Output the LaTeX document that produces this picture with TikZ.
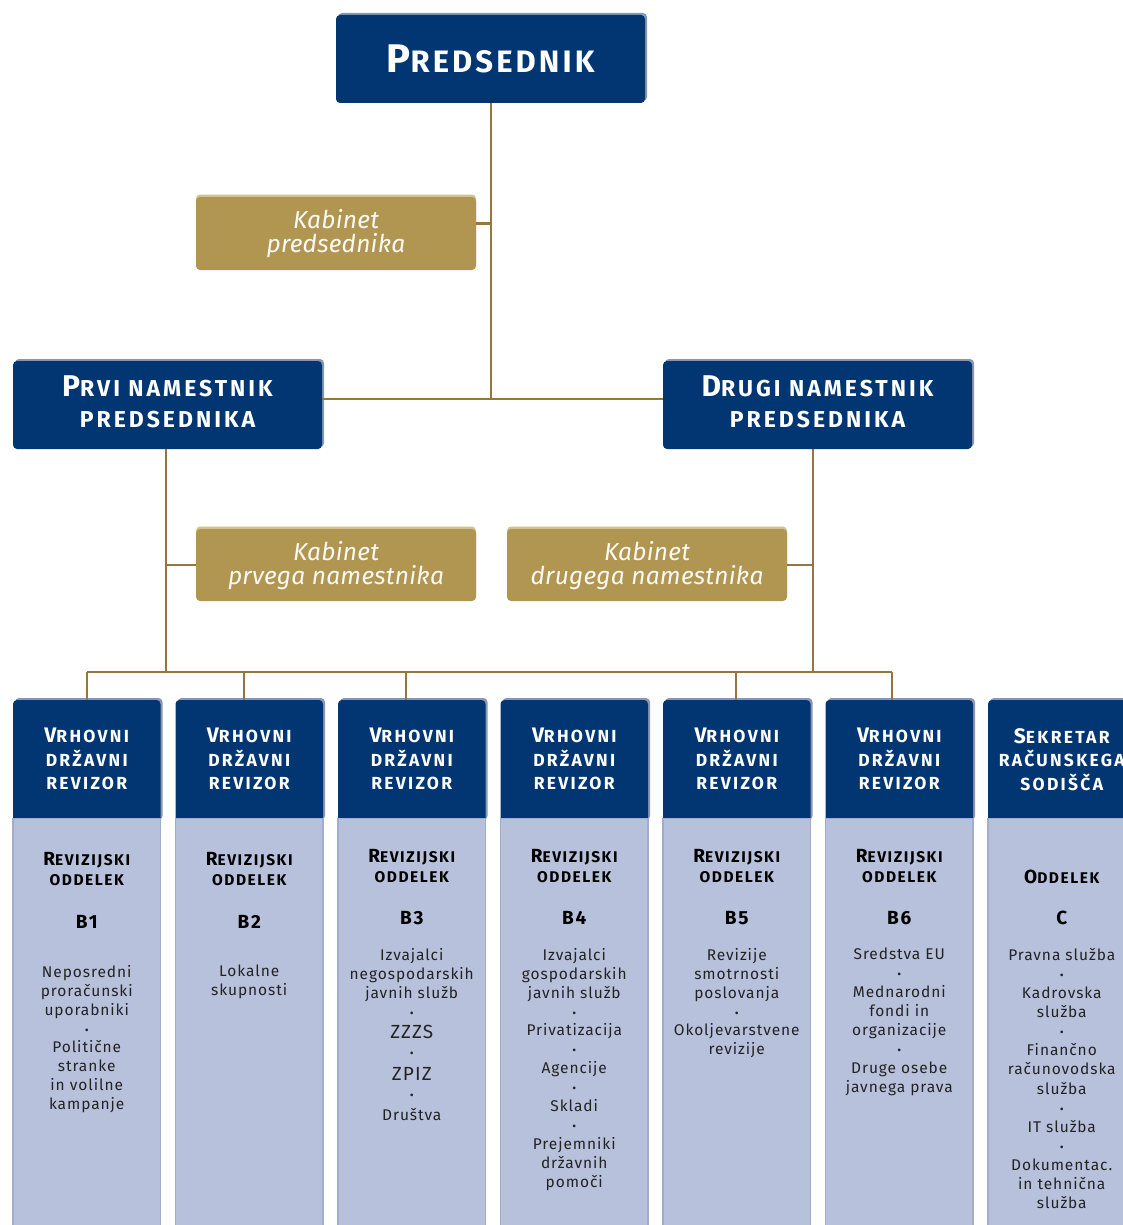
\documentclass[tikz,border=0pt]{standalone}
\usepackage{fontspec}
\setmainfont{Fira Sans}
\newfontfamily\hdfont{Fira Sans}[LetterSpace=10]
\newfontfamily\widefont{Fira Sans}[LetterSpace=13]
\newfontfamily\itemfont{Fira Sans}[LetterSpace=6]
\newfontfamily\kabfont{Fira Sans}[LetterSpace=1]
\usetikzlibrary{shadows}
\definecolor{navy}{RGB}{1,54,114}
\definecolor{gold}{RGB}{176,150,81}
\definecolor{goldhi}{RGB}{208,194,150}
\definecolor{lightb}{RGB}{184,193,219}
\definecolor{lightedge}{RGB}{162,172,204}
\definecolor{connc}{RGB}{150,118,64}
\definecolor{shad}{RGB}{140,150,178}
\definecolor{ink}{RGB}{35,35,35}
\newcommand{\Sc}[4]{{\fontsize{#1}{#1}\selectfont #3}{\fontsize{#2}{#2}\selectfont #4}}
\newcommand{\bul}{{\fontsize{12}{12}\selectfont\textbullet}}
\newcommand{\vdr}{\Sc{21}{17.5}{V}{RHOVNI}\\DRŽAVNI\\REVIZOR}
\newcommand{\revodd}{\Sc{19}{15.5}{R}{EVIZIJSKI}\\ODDELEK}
\begin{document}
\begin{tikzpicture}[x=1pt,y=-1pt,
  navybox/.style={fill=navy, rounded corners=4pt, inner sep=0pt, drop shadow={opacity=1, fill=shad, shadow xshift=2pt, shadow yshift=2pt}},
  goldbox/.style={fill=gold, rounded corners=4pt, inner sep=0pt, drop shadow={opacity=1, fill=goldhi, shadow xshift=0pt, shadow yshift=2.5pt}},
  bodybox/.style={fill=lightb, draw=lightedge, line width=1.2pt, inner sep=0pt},
  connline/.style={draw=connc, line width=2.4pt},
  hdtext/.style={text=white, align=center, inner sep=0pt, anchor=north},
  kabtext/.style={text=white!94!gold, align=center, inner sep=0pt, anchor=north, font=\kabfont\itshape\fontsize{24.5}{24}\selectfont},
  colhd/.style={hdtext, font=\widefont\bfseries\fontsize{17.5}{23.5}\selectfont},
  bodyhd/.style={text=black, align=center, inner sep=0pt, anchor=north, font=\hdfont\bfseries\fontsize{15.5}{20}\selectfont},
  codetext/.style={text=black, inner sep=0pt, anchor=base, font=\hdfont\bfseries\fontsize{19}{19}\selectfont},
  itemtext/.style={text=ink, align=center, inner sep=0pt, anchor=north, font=\itemfont\fontsize{15.5}{18.9}\selectfont},
]
\useasboundingbox (0,0) rectangle (1123,1225);
\fill[white] (0,0) rectangle (1123,1225);

% top level
\node[navybox, minimum width=309pt, minimum height=88pt, text=white, font=\hdfont\bfseries] (pres) at (490.5,59) {\Sc{40}{31}{P}{REDSEDNIK}};
\node[goldbox, minimum width=280pt, minimum height=73pt] (kab1) at (336,233.5) {};
\node[kabtext] (kab1t) at (336,209) {Kabinet\\predsednika};

\node[navybox, minimum width=309pt, minimum height=88pt] (prvi) at (167.5,405) {};
\node[hdtext, font=\widefont\bfseries\fontsize{23}{31}\selectfont] (prvit) at (167.5,376) {\Sc{30}{23}{P}{RVI NAMESTNIK}\\PREDSEDNIKA};
\node[navybox, minimum width=309pt, minimum height=88pt] (drugi) at (817.5,405) {};
\node[hdtext, font=\widefont\bfseries\fontsize{23}{31}\selectfont] (drugit) at (817.5,376) {\Sc{30}{23}{D}{RUGI NAMESTNIK}\\PREDSEDNIKA};

\node[goldbox, minimum width=280pt, minimum height=72pt] (kab2) at (336,565) {};
\node[kabtext] (kab2t) at (336,541) {Kabinet\\prvega namestnika};
\node[goldbox, minimum width=280pt, minimum height=72pt] (kab3) at (647,565) {};
\node[kabtext] (kab3t) at (647,541) {Kabinet\\drugega namestnika};

% columns
\foreach \i/\cx in {1/86.75, 2/249.25, 3/411.75, 4/574.25, 5/736.75, 6/899.25, 7/1061.75} {
  \node[navybox, minimum width=147.5pt, minimum height=122pt] (h\i) at (\cx,761) {};
  \node[bodybox, minimum width=147.5pt, minimum height=420pt, anchor=north] (b\i) at (\cx,818) {};
}
\node[colhd] (h1t) at (86.75,728) {\vdr};
\node[colhd] (h2t) at (249.25,728) {\vdr};
\node[colhd] (h3t) at (411.75,728) {\vdr};
\node[colhd] (h4t) at (574.25,728) {\vdr};
\node[colhd] (h5t) at (736.75,728) {\vdr};
\node[colhd] (h6t) at (899.25,728) {\vdr};
\node[colhd] (h7t) at (1061.75,728) {\Sc{21}{17.5}{S}{EKRETAR}\\RAČUNSKEGA\\SODIŠČA};

\node[bodyhd] (r1) at (86.75,852) {\revodd};
\node[bodyhd] (r2) at (249.25,852) {\revodd};
\node[bodyhd] (r3) at (411.75,849) {\revodd};
\node[bodyhd] (r4) at (574.25,849) {\revodd};
\node[bodyhd] (r5) at (736.75,849) {\revodd};
\node[bodyhd] (r6) at (899.25,849) {\revodd};
\node[bodyhd] (r7) at (1061.75,870) {\Sc{19}{15.5}{O}{DDELEK}};

\node[codetext] (c1) at (86.75,928) {B1};
\node[codetext] (c2) at (249.25,928) {B2};
\node[codetext] (c3) at (411.75,924.5) {B3};
\node[codetext] (c4) at (574.25,924.5) {B4};
\node[codetext] (c5) at (736.75,924.5) {B5};
\node[codetext] (c6) at (899.25,924.5) {B6};
\node[codetext] (c7) at (1061.75,924.5) {C};

\node[itemtext] (i1) at (86.75,965) {Neposredni\\proračunski\\uporabniki\\\bul\\Politične\\stranke\\in volilne\\kampanje};
\node[itemtext] (i2) at (249.25,965) {Lokalne\\skupnosti};
\node[itemtext] (i3) at (411.75,948) {Izvajalci\\negospodarskih\\javnih služb\\\bul\\[2.9pt]{\fontsize{19}{19}\selectfont ZZZS}\\\bul\\[4pt]{\fontsize{19}{19}\selectfont ZPIZ}\\\bul\\[1.8pt]Društva};
\node[itemtext] (i4) at (574.25,948) {Izvajalci\\gospodarskih\\javnih služb\\\bul\\Privatizacija\\\bul\\Agencije\\\bul\\Skladi\\\bul\\Prejemniki\\državnih\\pomoči};
\node[itemtext] (i5) at (736.75,948) {Revizije\\smotrnosti\\poslovanja\\\bul\\Okoljevarstvene\\revizije};
\node[itemtext] (i6) at (899.25,948) {Sredstva EU\\\bul\\Mednarodni\\fondi in\\organizacije\\\bul\\Druge osebe\\javnega prava};
\node[itemtext, font=\itemfont\fontsize{15.5}{19.1}\selectfont] (i7) at (1061.75,948) {Pravna služba\\\bul\\Kadrovska\\služba\\\bul\\Finančno\\računovodska\\služba\\\bul\\IT služba\\\bul\\Dokumentac.\\in tehnična\\služba};

% connectors
\coordinate (jn) at (491,399);
\coordinate (bus) at (166,672);
\coordinate (dd) at (813,672);
\coordinate (t1) at (87,672);
\coordinate (t2) at (244,672);
\coordinate (t3) at (406,672);
\coordinate (t5) at (736,672);
\coordinate (t6) at (892,672);
\draw[connline] (pres.south -| jn) -- (jn);
\draw[connline] (prvi.east |- jn) -- (drugi.west |- jn);
\draw[connline] ([yshift=10pt]kab1.east) -- ([yshift=10pt]kab1.east -| jn);
\draw[connline] (bus |- prvi.south) -- (bus);
\draw[connline] (dd |- drugi.south) -- (dd);
\draw[connline] (kab2.west) -- (kab2.west -| bus);
\draw[connline] (kab3.east) -- (kab3.east -| dd);
\draw[connline] (t1) -- (t6);
\draw[connline] (t1) -- (t1 |- h1.north);
\draw[connline] (t2) -- (t2 |- h2.north);
\draw[connline] (t3) -- (t3 |- h3.north);
\draw[connline] (t5) -- (t5 |- h5.north);
\draw[connline] (t6) -- (t6 |- h6.north);
\end{tikzpicture}
\end{document}
